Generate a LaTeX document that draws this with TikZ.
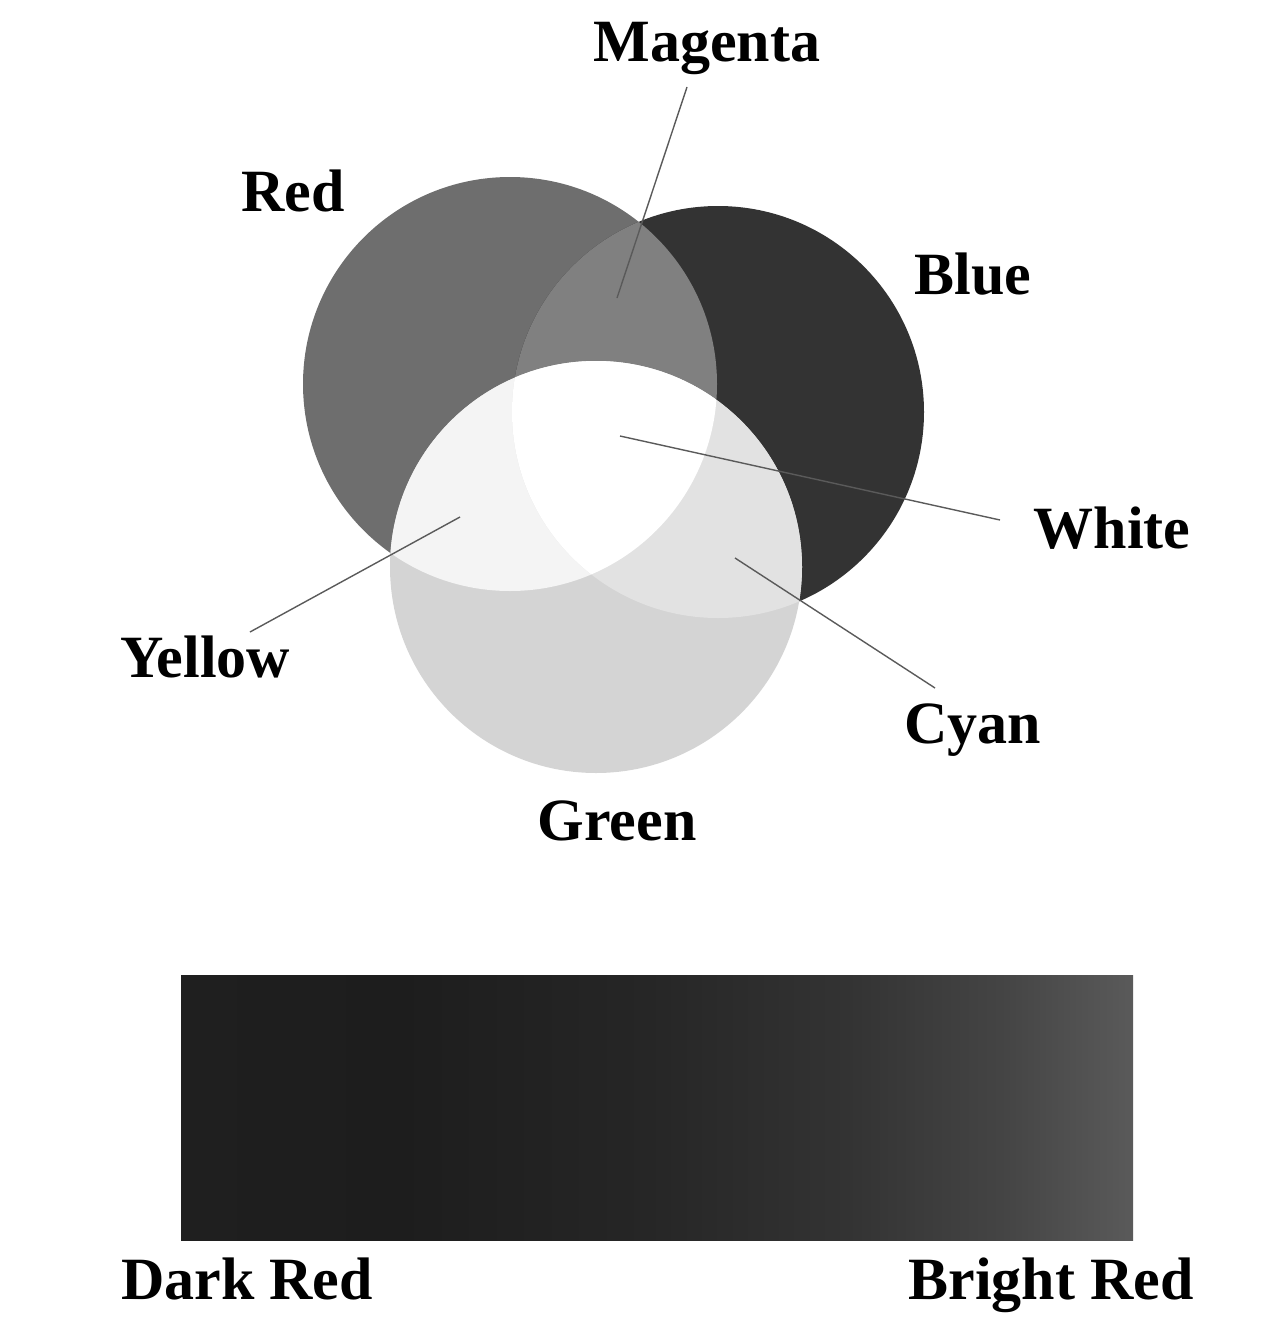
\documentclass[tikz,border=0pt]{standalone}
\usepackage{fontspec}
\setmainfont{Liberation Serif}
\definecolor{cRed}{HTML}{6E6E6E}
\definecolor{cBlue}{HTML}{333333}
\definecolor{cGreen}{HTML}{D4D4D4}
\definecolor{cMag}{HTML}{808080}
\definecolor{cYel}{HTML}{F4F4F4}
\definecolor{cCyan}{HTML}{E2E2E2}
\definecolor{cLine}{HTML}{5A5A5A}
\definecolor{bA}{HTML}{1F1F1F}
\definecolor{bB}{HTML}{1D1D1D}
\definecolor{bC}{HTML}{262626}
\definecolor{bD}{HTML}{333333}
\definecolor{bE}{HTML}{444444}
\definecolor{bF}{HTML}{5A5A5A}
\pgfdeclarehorizontalshading{barshade}{100bp}{color(0bp)=(bA); color(25bp)=(bA); color(36.5bp)=(bB); color(49.5bp)=(bC); color(60bp)=(bD); color(68bp)=(bE); color(75bp)=(bF); color(100bp)=(bF)}
\tikzset{
  lbl/.style={inner sep=0pt, anchor=base, font=\fontsize{60}{70}\selectfont\bfseries},
  pointer/.style={draw=cLine, line width=1.4pt},
}
\begin{document}
\begin{tikzpicture}[x=1pt,y=-1pt]
\useasboundingbox (0,0) rectangle (1278,1317);
\def\RedC{(510,384) circle (207)}
\def\BlueC{(718,412) circle (206)}
\def\GreenC{(596,567) circle (206)}
% base circles
\fill[cRed] \RedC;
\fill[cBlue] \BlueC;
\fill[cGreen] \GreenC;
% overlaps
\begin{scope}
  \clip \RedC;
  \fill[cMag] \BlueC;
  \fill[cYel] \GreenC;
\end{scope}
\begin{scope}
  \clip \BlueC;
  \fill[cCyan] \GreenC;
\end{scope}
\begin{scope}
  \clip \RedC;
  \clip \BlueC;
  \fill[white] \GreenC;
\end{scope}
% labels
\node[lbl] (magenta) at (707,61) {Magenta};
\node[lbl] (red) at (293,211) {Red};
\node[lbl] (blue) at (973,294) {Blue};
\node[lbl] (whitel) at (1112,548) {White};
\node[lbl] (yellow) at (205,677) {Yellow};
\node[lbl] (cyan) at (973,743) {Cyan};
\node[lbl] (green) at (617,840) {Green};
% pointer lines
\coordinate (m1) at (687,87);
\coordinate (m2) at (617,298);
\coordinate (w1) at (1000,520);
\coordinate (w2) at (620,436);
\coordinate (y1) at (250,632);
\coordinate (y2) at (460,517);
\coordinate (c1) at (935,688);
\coordinate (c2) at (735,558);
\draw[pointer] (m1) -- (m2);
\draw[pointer] (w1) -- (w2);
\draw[pointer] (y1) -- (y2);
\draw[pointer] (c1) -- (c2);
% bar
\node[inner sep=0pt, minimum width=952pt, minimum height=265pt, shading=barshade, anchor=north west] (bar) at (181,975) {};
\node[lbl] (dark) at (247,1299) {Dark Red};
\node[lbl] (bright) at (1051,1299) {Bright Red};
\end{tikzpicture}
\end{document}
